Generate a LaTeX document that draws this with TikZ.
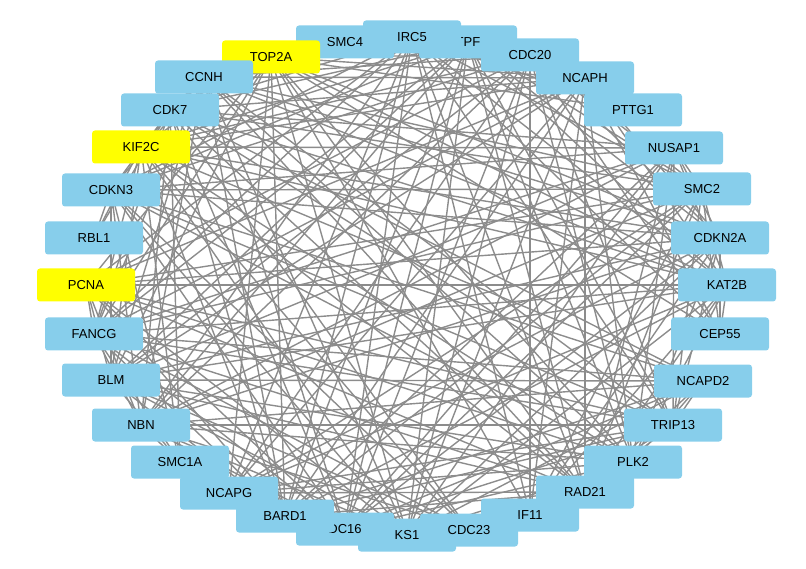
\documentclass[tikz,border=0pt]{standalone}
\usepackage{fontspec}
\setmainfont{Liberation Sans}
\definecolor{nb}{HTML}{87CEEB}
\definecolor{ny}{HTML}{FFFF00}
\definecolor{eg}{HTML}{8C8C8C}
\begin{document}
\begin{tikzpicture}[x=1pt,y=-1pt,
  gn/.style={rectangle,rounded corners=3pt,fill=nb,minimum width=98pt,minimum height=33pt,font=\fontsize{13}{15}\selectfont,inner sep=1pt},
  yn/.style={gn,fill=ny},
  edge/.style={draw=eg,line width=1.4pt}]
\useasboundingbox (0,0) rectangle (806,569);
\foreach \n/\x/\y in {1/271/57,2/345/42,3/468/42,4/412/37,5/530/55,6/585/78,7/633/110,8/674/148,9/702/189,10/720/238,11/727/285,12/720/334,13/703/381,14/673/425,15/633/462,16/585/492,17/530/515,18/469/530,19/345/529,20/407/535,21/285/516,22/229/493,23/180/462,24/141/425,25/111/380,26/94/334,27/86/285,28/94/238,29/111/190,30/141/147,31/170/110,32/204/77}
  \coordinate (n\n) at (\x,\y);
\foreach \i in {1,...,31}{
  \pgfmathtruncatemacro\s{\i+1}
  \foreach \j in {\s,...,32}{
    \pgfmathtruncatemacro\r{mod(\i*7+\j*13+\i*\j,5)}
    \ifnum\r<3 \draw[edge] (n\i) -- (n\j);\fi
  }}
\node[gn] (a2) at (n2) {SMC4};
\node[gn] (a3) at (n3) {TPF};
\node[gn] (a4) at (n4) {IRC5};
\node[yn] (a1) at (n1) {TOP2A};
\node[gn] (a5) at (n5) {CDC20};
\node[gn] (a6) at (n6) {NCAPH};
\node[gn] (a7) at (n7) {PTTG1};
\node[gn] (a8) at (n8) {NUSAP1};
\node[gn] (a9) at (n9) {SMC2};
\node[gn] (a10) at (n10) {CDKN2A};
\node[gn] (a11) at (n11) {KAT2B};
\node[gn] (a12) at (n12) {CEP55};
\node[gn] (a13) at (n13) {NCAPD2};
\node[gn] (a14) at (n14) {TRIP13};
\node[gn] (a15) at (n15) {PLK2};
\node[gn] (a16) at (n16) {RAD21};
\node[gn] (a20) at (n20) {KS1};
\node[gn] (a19) at (n19) {DC16};
\node[gn] (a21) at (n21) {BARD1};
\node[gn] (a17) at (n17) {IF11};
\node[gn] (a18) at (n18) {CDC23};
\node[gn] (a22) at (n22) {NCAPG};
\node[gn] (a23) at (n23) {SMC1A};
\node[gn] (a24) at (n24) {NBN};
\node[gn] (a25) at (n25) {BLM};
\node[gn] (a26) at (n26) {FANCG};
\node[yn] (a27) at (n27) {PCNA};
\node[gn] (a28) at (n28) {RBL1};
\node[gn] (a29) at (n29) {CDKN3};
\node[yn] (a30) at (n30) {KIF2C};
\node[gn] (a31) at (n31) {CDK7};
\node[gn] (a32) at (n32) {CCNH};
\end{tikzpicture}
\end{document}
